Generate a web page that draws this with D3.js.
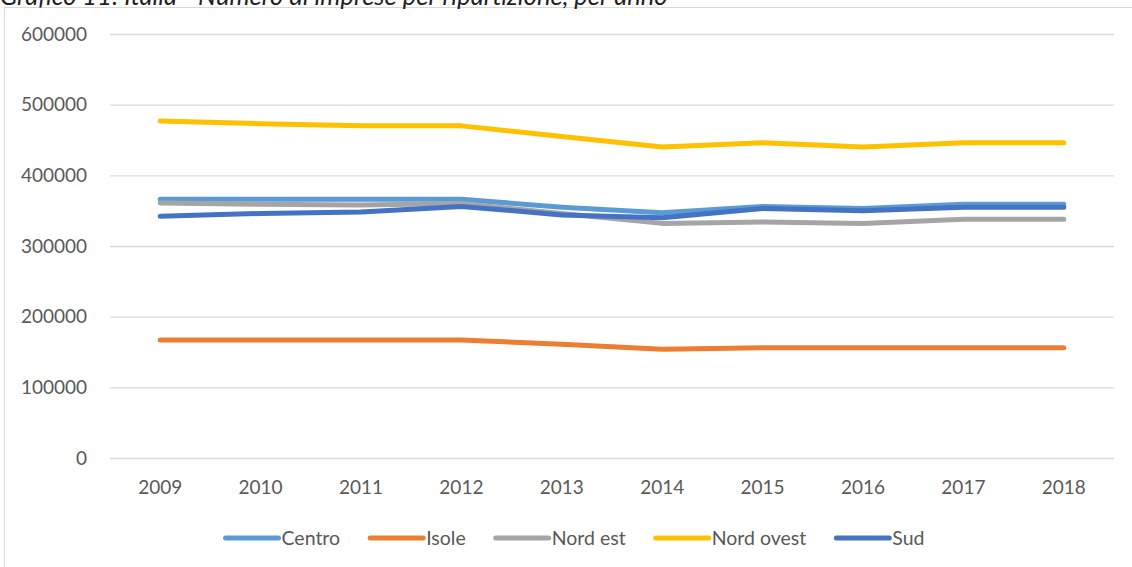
<!DOCTYPE html>
<html>
<head>
<meta charset="utf-8">
<script src="https://cdn.jsdelivr.net/npm/d3@7"></script>
<style>
    body { margin: 0; background: #fff; }
    svg { display: block; font-family: Lato, 'Open Sans', sans-serif; }
</style>
</head>
<body>
<div id="chart"></div>
<script>
// data
const years = ['2009', '2010', '2011', '2012', '2013', '2014', '2015', '2016', '2017', '2018'];
const centro = [366000, 366000, 366000, 366000, 355000, 347000, 356000, 353000, 359000, 359000];
const isole = [167000, 167000, 167000, 167000, 161000, 154000, 156000, 156000, 156000, 156000];
const nordEst = [361000, 359000, 358000, 360000, 346000, 332000, 334000, 332000, 338000, 338000];
const nordOvest = [477000, 473000, 470000, 470000, 455000, 440000, 446000, 440000, 446000, 446000];
const sud = [342000, 346000, 348000, 356000, 344000, 340000, 353000, 350000, 355000, 355000];
const seriesNames = ['Centro', 'Isole', 'Nord est', 'Nord ovest', 'Sud'];
const yTicks = [0, 100000, 200000, 300000, 400000, 500000, 600000];
const title = 'Grafico 11: Italia - Numero di imprese per ripartizione, per anno';

const colors = ['#5B9BD5', '#ED7D31', '#A5A5A5', '#FFC000', '#4472C4'];
const series = [centro, isole, nordEst, nordOvest, sud].map((values, i) => ({
    name: seriesNames[i],
    values,
    color: colors[i]
}));

const width = 1132;
const height = 567;
const plotLeft = 110, plotRight = 1114, plotTop = 34, plotBottom = 458;

const svg = d3.select('#chart').append('svg')
    .attr('width', width)
    .attr('height', height);

// chart frame (runs off the right and bottom edges)
svg.append('rect')
    .attr('x', 4.5).attr('y', 7.5)
    .attr('width', width + 20).attr('height', height + 20)
    .attr('fill', 'none')
    .attr('stroke', '#d9d9d9');

// title, clipped at the top like in the original page
svg.append('text')
    .attr('x', 0)
    .attr('y', 5)
    .attr('fill', '#1f1f1f')
    .style('font-size', '25.5px')
    .style('font-style', 'italic')
    .text(title);

const x = d3.scaleBand().domain(years).range([plotLeft, plotRight]).padding(0);
const y = d3.scaleLinear().domain([0, 600000]).range([plotBottom, plotTop]);
const cx = (d) => x(d) + x.bandwidth() / 2;

// y axis + gridlines
const yAxis = d3.axisLeft(y)
    .tickValues(yTicks)
    .tickSize(-(plotRight - plotLeft))
    .tickPadding(23)
    .tickFormat(d3.format('d'));

const gy = svg.append('g')
    .attr('transform', `translate(${plotLeft},0)`)
    .call(yAxis);
gy.select('.domain').remove();
gy.selectAll('.tick line').attr('stroke', '#d9d9d9').attr('stroke-width', 1.3);
gy.selectAll('.tick text')
    .attr('fill', '#595959')
    .style('font-size', '19px')
    .style('font-family', 'Lato, sans-serif');

// x axis labels
const xAxis = d3.axisBottom(x).tickSize(0).tickPadding(23);
const gx = svg.append('g')
    .attr('transform', `translate(0,${plotBottom})`)
    .call(xAxis);
gx.select('.domain').remove();
gx.selectAll('.tick text')
    .attr('fill', '#595959')
    .style('font-size', '19px')
    .style('font-family', 'Lato, sans-serif');

// lines
const line = d3.line()
    .x((d, i) => cx(years[i]))
    .y((d) => y(d));

svg.selectAll('.series')
    .data(series)
    .enter()
    .append('path')
    .attr('class', 'series')
    .attr('d', (d) => line(d.values))
    .attr('fill', 'none')
    .attr('stroke', (d) => d.color)
    .attr('stroke-width', 5)
    .attr('stroke-linecap', 'round')
    .attr('stroke-linejoin', 'round');

// legend, centred on the chart area
const legendY = 538;
const swatch = 53;
const gap = 30;
const legend = svg.append('g');
const items = legend.selectAll('g')
    .data(series)
    .enter()
    .append('g');

items.append('line')
    .attr('x1', 0).attr('x2', swatch)
    .attr('y1', legendY).attr('y2', legendY)
    .attr('stroke', (d) => d.color)
    .attr('stroke-width', 5)
    .attr('stroke-linecap', 'round');

items.append('text')
    .attr('x', swatch + 3)
    .attr('y', legendY)
    .attr('dy', '0.35em')
    .attr('fill', '#595959')
    .style('font-size', '19.5px')
    .text((d) => d.name);

let pos = 0;
const offsets = [];
items.each(function () {
    offsets.push(pos);
    const w = swatch + 3 + d3.select(this).select('text').node().getComputedTextLength();
    pos += w + gap;
});
const total = pos - gap;
const start = 575 - total / 2;
items.attr('transform', (d, i) => `translate(${start + offsets[i]},0)`);
</script>
</body>
</html>
